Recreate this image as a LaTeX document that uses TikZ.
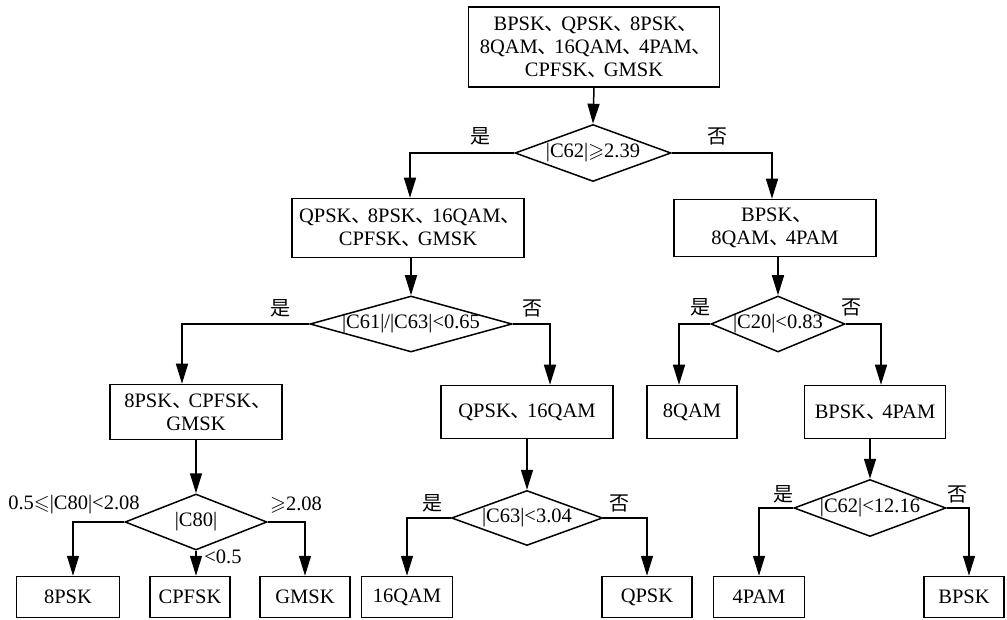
\documentclass[tikz,border=0pt]{standalone}
\usepackage{amssymb}
\usepackage{fontspec}
\setmainfont{Liberation Serif}
\newfontfamily\cjk{Noto Sans CJK SC}
\usetikzlibrary{arrows.meta,shapes.geometric}
\newcommand\dn{\makebox[0.8em][l]{\cjk 、}}
\newcommand\mygeq{\ensuremath{\geqslant}}
\newcommand\myleq{\ensuremath{\leqslant}}
\tikzset{
  every node/.style={font=\fontsize{20.5pt}{23pt}\selectfont},
  box/.style={draw,line width=1.5pt,rectangle,inner sep=0pt,align=center},
  dia/.style={draw,line width=1.5pt,diamond,inner sep=0pt},
  lab/.style={inner sep=0pt},
  yn/.style={inner sep=0pt,font=\fontsize{20pt}{22pt}\cjk},
  arr/.style={line width=1.5pt,-{Triangle[length=20pt,width=12pt]}},
}
\begin{document}
\begin{tikzpicture}[x=1pt,y=-1pt]
\useasboundingbox (0,0) rectangle (1007,620);
% level 0
\node[box,minimum width=251pt,minimum height=80pt] (top) at (594,47) {BPSK\dn QPSK\dn 8PSK\dn\\8QAM\dn 16QAM\dn 4PAM\dn\\CPFSK\dn GMSK};
\node[dia,minimum width=156pt,minimum height=57pt] (d1) at (593,153) {\makebox[0pt]{|C62|\mygeq2.39}};
% level 1
\node[box,minimum width=232pt,minimum height=59pt] (b2) at (408,228) {QPSK\dn 8PSK\dn 16QAM\dn\\CPFSK\dn GMSK};
\node[box,minimum width=202pt,minimum height=57pt] (b3) at (775,228) {BPSK\dn\\8QAM\dn 4PAM};
\node[dia,minimum width=202pt,minimum height=56pt] (d2) at (411,324) {\makebox[0pt]{|C61|/|C63|<0.65}};
\node[dia,minimum width=134pt,minimum height=56pt] (d3) at (778,324) {\makebox[0pt]{|C20|<0.83}};
% level 2
\node[box,minimum width=172pt,minimum height=55pt] (b4) at (196,412) {8PSK\dn CPFSK\dn\\GMSK};
\node[box,minimum width=172pt,minimum height=53pt] (b5) at (527,412) {QPSK\dn 16QAM};
\node[box,minimum width=90pt,minimum height=53pt] (b6) at (692,412) {8QAM};
\node[box,minimum width=141pt,minimum height=53pt] (b7) at (875,412) {BPSK\dn 4PAM};
\node[dia,minimum width=142pt,minimum height=56pt] (d4) at (196,522) {\makebox[0pt]{|C80|}};
\node[dia,minimum width=151pt,minimum height=55pt] (d5) at (527,518) {\makebox[0pt]{|C63|<3.04}};
\node[dia,minimum width=152pt,minimum height=57pt] (d6) at (870,508) {\makebox[0pt]{|C62|<12.16}};
% leaves
\node[box,minimum width=103pt,minimum height=41pt] (l1) at (68,597) {8PSK};
\node[box,minimum width=80pt,minimum height=41pt] (l2) at (190,597) {CPFSK};
\node[box,minimum width=90pt,minimum height=41pt] (l3) at (305,597) {GMSK};
\node[box,minimum width=91pt,minimum height=41pt] (l4) at (407,597) {16QAM};
\node[box,minimum width=90pt,minimum height=41pt] (l5) at (647,597) {QPSK};
\node[box,minimum width=91pt,minimum height=41pt] (l6) at (759,597) {4PAM};
\node[box,minimum width=80pt,minimum height=41pt] (l7) at (964,597) {BPSK};
% connectors
\draw[arr] (top.south) -- (d1.north);
\draw[arr] (d1.west) -| ([xshift=2pt]b2.north);
\draw[arr] (d1.east) -| ([xshift=-3pt]b3.north);
\draw[arr] (d2.north |- b2.south) -- (d2.north);
\draw[arr] (d2.west) -| ([xshift=-14pt]b4.north);
\draw[arr] (d2.east) -| ([xshift=23pt]b5.north);
\draw[arr] (d3.north |- b3.south) -- (d3.north);
\draw[arr] (d3.west) -| ([xshift=-13pt]b6.north);
\draw[arr] (d3.east) -| ([xshift=6pt]b7.north);
\draw[arr] (d4.north |- b4.south) -- (d4.north);
\draw[arr] (d5.north |- b5.south) -- (d5.north);
\draw[arr] (d6.north |- b7.south) -- (d6.north);
\draw[arr] (d4.west) -| ([xshift=5pt]l1.north);
\draw[arr] (d4.south) -- (d4.south |- l2.north);
\draw[arr] (d4.east) -| (l3.north);
\draw[arr] (d5.west) -| (l4.north);
\draw[arr] (d5.east) -| (l5.north);
\draw[arr] (d6.west) -| (l6.north);
\draw[arr] (d6.east) -| ([xshift=5pt]l7.north);
% yes / no labels
\node[yn] (y1) at (480,136) {是};
\node[yn] (n1) at (717,136) {否};
\node[yn] (y2) at (280,308) {是};
\node[yn] (n2) at (532,308) {否};
\node[yn] (y3) at (700,307) {是};
\node[yn] (n3) at (851,307) {否};
\node[yn] (y5) at (432,503) {是};
\node[yn] (n5) at (619,503) {否};
\node[yn] (y6) at (783,494) {是};
\node[yn] (n6) at (957,494) {否};
% threshold labels
\node[lab] (t1) at (74,505) {0.5\myleq|C80|<2.08};
\node[lab] (t2) at (296,505) {\mygeq2.08};
\node[lab] (t3) at (223,557) {<0.5};
\end{tikzpicture}
\end{document}
